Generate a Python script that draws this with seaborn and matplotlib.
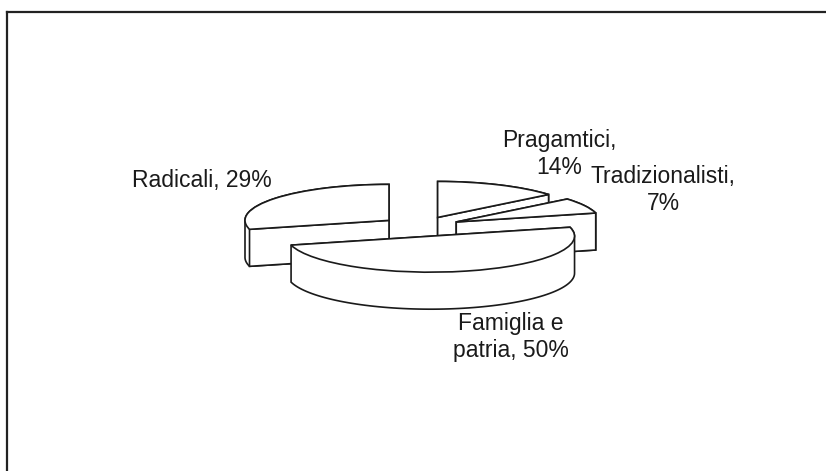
import numpy as np
import matplotlib
matplotlib.use("Agg")
import matplotlib.pyplot as plt
from matplotlib.patches import Polygon
import seaborn as sns

labels = ["Radicali, 29%", "Famiglia e\npatria, 50%", "Tradizionalisti,\n7%", "Pragamtici,\n14%"]
shares = [29, 50, 7, 14]
label_pos = [(202, 181), (511, 337), (663, 190), (559, 154)]
draw_order = [3, 0, 2, 1]  # back to front

sns.set_theme(style="white")
plt.rcParams["font.family"] = ["Liberation Sans", "DejaVu Sans"]

W, H = 826, 471
SQUASH = 4  # y data units per pixel, flattens the pie
DEPTH = 37 * SQUASH
INK = "#1a1a1a"


def hull(points):
    # monotone chain, slices are convex so their solid outline is this hull
    pts = sorted(map(tuple, points))
    def half(seq):
        out = []
        for p in seq:
            while len(out) > 1 and np.cross(np.subtract(out[-1], out[-2]), np.subtract(p, out[-2])) <= 0:
                out.pop()
            out.append(p)
        return out[:-1]
    return half(pts) + half(pts[::-1])


fig = plt.figure(figsize=(W / 100, H / 100), dpi=100)
ax = fig.add_axes([7 / W, 0, (W - 7) / W, (H - 12) / H])

wedges, _ = ax.pie(shares, startangle=90, radius=144, center=(420.6, (H - 226.5) * SQUASH),
                   explode=[40] * 4, normalize=True)
ax.set_aspect("auto")
ax.set_xlim(7, W)
ax.set_ylim(0, (H - 12) * SQUASH)

for z, i in enumerate(draw_order):
    w = wedges[i]
    base = z * 10
    apex = np.array(w.center, dtype=float)
    t = np.radians(np.linspace(w.theta1, w.theta2, 90))
    arc = np.c_[apex[0] + w.r * np.cos(t), apex[1] + w.r * np.sin(t)]
    drop = np.array([0, DEPTH])
    outline = hull(np.vstack([arc, arc - drop, [apex], [apex - drop]]))
    ax.add_patch(Polygon(outline, fc="white", ec=INK, lw=1.2, zorder=base + 1))
    # cut faces that turn toward the viewer
    for end, normal in ((arc[0], w.theta1 - 90), (arc[-1], w.theta2 + 90)):
        if np.sin(np.radians(normal)) < -0.01:
            ax.add_patch(Polygon([apex, end, end - drop, apex - drop], fc="white", ec=INK, lw=1.2, zorder=base + 2))
    w.set(facecolor="white", edgecolor=INK, linewidth=1.2, zorder=base + 3)

for txt, (x, y) in zip(labels, label_pos):
    ax.text(x, (H - y) * SQUASH, txt, ha="center", va="center", ma="center",
            fontsize=16.5, color=INK, linespacing=1.27, zorder=200)

ax.set_xticks([])
ax.set_yticks([])
ax.set_frame_on(True)
sns.despine(ax=ax, top=False, left=False, right=True, bottom=True)
for side in ("left", "top"):
    ax.spines[side].set_color("#222222")
    ax.spines[side].set_linewidth(1.6)

fig.savefig("out.png", dpi=100)
